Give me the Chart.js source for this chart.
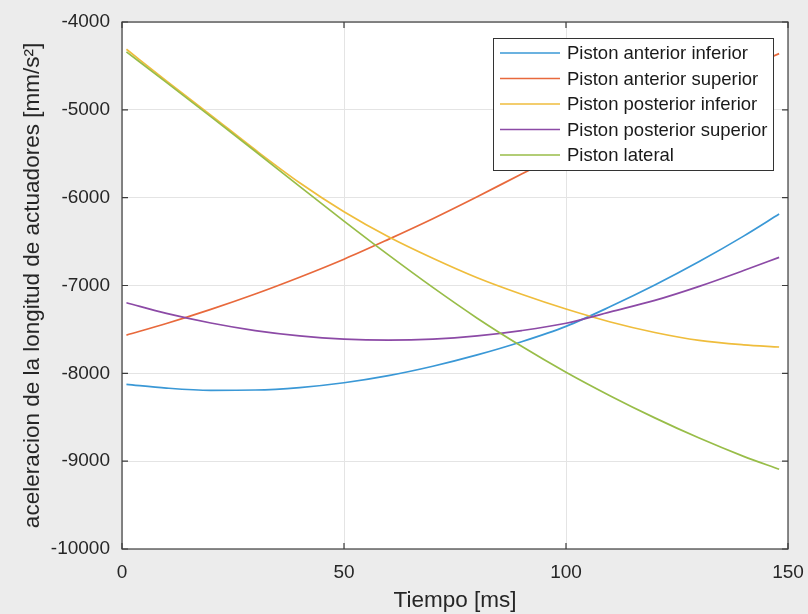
<!DOCTYPE html>
<html>
<head>
<meta charset="utf-8">
<script src="https://cdn.jsdelivr.net/npm/chart.js@4/dist/chart.umd.min.js"></script>
<style>
  html, body { margin: 0; padding: 0; background: #ececec; }
  #wrap { width: 808px; height: 614px; }
</style>
</head>
<body>
<div id="wrap"><canvas id="c" width="808" height="614"></canvas></div>
<script>
// Tiempo [ms]
const timeMs = [1, 10, 20, 30, 40, 50, 60, 70, 80, 90, 100, 110, 120, 130, 140, 148];

// aceleracion [mm/s^2] por piston
const antInf  = [-8125, -8168, -8193, -8190, -8162, -8107, -8026, -7919, -7790, -7640, -7465, -7240, -6995, -6728, -6438, -6187];
const antSup  = [-7565, -7433, -7272, -7097, -6906, -6701, -6475, -6240, -5990, -5730, -5480, -5235, -4995, -4760, -4535, -4360];
const postInf = [-4310, -4670, -5060, -5455, -5830, -6160, -6445, -6690, -6912, -7100, -7268, -7415, -7535, -7625, -7675, -7700];
const postSup = [-7197, -7318, -7427, -7513, -7573, -7610, -7622, -7610, -7573, -7513, -7430, -7300, -7170, -7010, -6830, -6680];
const lateral = [-4340, -4687, -5077, -5472, -5872, -6267, -6652, -7022, -7372, -7692, -7987, -8257, -8507, -8737, -8945, -9092];

const seriesLabels = [
  'Piston anterior inferior',
  'Piston anterior superior',
  'Piston posterior inferior',
  'Piston posterior superior',
  'Piston lateral'
];

const xTickStep = 50;
const yTickStep = 1000;

const FONT = '"Liberation Sans", Arial, Helvetica, sans-serif';
const TEXT = '#262626';
const COLORS = ['#3a98d6', '#e8693c', '#efbd3c', '#8c4aa6', '#98bd48'];

const seriesValues = [antInf, antSup, postInf, postSup, lateral];

const datasets = seriesValues.map((vals, i) => ({
  label: seriesLabels[i],
  data: timeMs.map((t, k) => ({ x: t, y: vals[k] })),
  borderColor: COLORS[i],
  backgroundColor: COLORS[i],
  borderWidth: 1.7,
  pointRadius: 0,
  cubicInterpolationMode: 'monotone',
  fill: false,
  order: seriesValues.length - i   // later series drawn on top
}));

// figure background and white axes area
const backdrop = {
  id: 'backdrop',
  beforeDraw(chart) {
    const { ctx, chartArea: a } = chart;
    ctx.save();
    ctx.fillStyle = '#ececec';
    ctx.fillRect(0, 0, chart.width, chart.height);
    ctx.fillStyle = '#ffffff';
    ctx.fillRect(a.left, a.top, a.right - a.left, a.bottom - a.top);
    ctx.restore();
  }
};

// legend box placed inside the axes, top-right
const insideLegend = {
  id: 'insideLegend',
  afterDatasetsDraw(chart) {
    const { ctx, chartArea: a } = chart;
    const x0 = a.right - 295, y0 = a.top + 16, w = 280, h = 132;
    ctx.save();
    ctx.fillStyle = '#ffffff';
    ctx.fillRect(x0, y0, w, h);
    ctx.strokeStyle = '#333333';
    ctx.lineWidth = 1;
    ctx.strokeRect(x0 + 0.5, y0 + 0.5, w, h);
    ctx.font = '18.5px ' + FONT;
    ctx.textBaseline = 'middle';
    ctx.textAlign = 'left';
    chart.data.datasets.forEach((ds, i) => {
      const y = y0 + 15 + i * 25.5;
      ctx.strokeStyle = ds.borderColor;
      ctx.lineWidth = 1.7;
      ctx.beginPath();
      ctx.moveTo(x0 + 7, y);
      ctx.lineTo(x0 + 67, y);
      ctx.stroke();
      ctx.fillStyle = '#1a1a1a';
      ctx.fillText(ds.label, x0 + 74, y + 1);
    });
    ctx.restore();
  }
};

// axes box with inward tick marks on all four sides
const axesBox = {
  id: 'axesBox',
  afterDraw(chart) {
    const { ctx, chartArea: a, scales } = chart;
    const len = 6;
    ctx.save();
    ctx.strokeStyle = '#3c3c3c';
    ctx.lineWidth = 1.2;
    ctx.strokeRect(a.left, a.top, a.right - a.left, a.bottom - a.top);
    ctx.beginPath();
    scales.x.ticks.forEach(t => {
      const px = scales.x.getPixelForValue(t.value);
      ctx.moveTo(px, a.bottom); ctx.lineTo(px, a.bottom - len);
      ctx.moveTo(px, a.top);    ctx.lineTo(px, a.top + len);
    });
    scales.y.ticks.forEach(t => {
      const py = scales.y.getPixelForValue(t.value);
      ctx.moveTo(a.left, py);  ctx.lineTo(a.left + len, py);
      ctx.moveTo(a.right, py); ctx.lineTo(a.right - len, py);
    });
    ctx.stroke();
    ctx.restore();
  }
};

new Chart(document.getElementById('c'), {
  type: 'line',
  data: { datasets },
  options: {
    responsive: false,
    animation: false,
    devicePixelRatio: 1,
    layout: { padding: { left: 0, top: 22, right: 20, bottom: 0 } },
    plugins: { legend: { display: false }, tooltip: { enabled: false } },
    scales: {
      x: {
        type: 'linear',
        min: 0, max: 150,
        ticks: {
          stepSize: xTickStep,
          font: { family: FONT, size: 19 },
          color: TEXT,
          padding: 12,
          maxRotation: 0,
          callback: v => String(v)
        },
        grid: { color: '#e4e4e4', drawTicks: false },
        border: { display: false },
        title: {
          display: true,
          text: 'Tiempo [ms]',
          font: { family: FONT, size: 22.5 },
          color: TEXT,
          padding: { top: 0, bottom: 0 }
        },
        afterFit(s) { s.height = 65; s.paddingLeft = 0; s.paddingRight = 0; }
      },
      y: {
        type: 'linear',
        min: -10000, max: -4000,
        ticks: {
          stepSize: yTickStep,
          font: { family: FONT, size: 19 },
          color: TEXT,
          padding: 12,
          callback: v => String(v)
        },
        grid: { color: '#e4e4e4', drawTicks: false },
        border: { display: false },
        title: {
          display: true,
          text: 'aceleracion de la longitud de actuadores [mm/s²]',
          font: { family: FONT, size: 22.5 },
          color: TEXT,
          padding: { top: 19, bottom: 0 }
        },
        afterFit(s) { s.width = 122; s.paddingTop = 0; s.paddingBottom = 0; }
      }
    }
  },
  plugins: [backdrop, insideLegend, axesBox]
});
</script>
</body>
</html>
